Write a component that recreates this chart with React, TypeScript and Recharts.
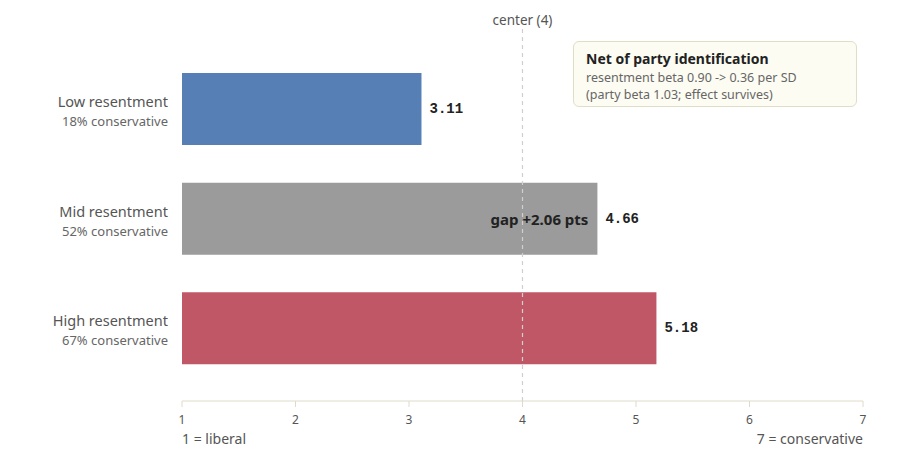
import React from "react";
import { BarChart, Bar, XAxis, YAxis, ReferenceLine, LabelList, Cell } from "recharts";

// Mean self-placement on the 1–7 ideology scale, by resentment tercile
const groups = ["Low resentment", "Mid resentment", "High resentment"];
const shareConservative = ["18% conservative", "52% conservative", "67% conservative"];
const meanScore = [3.11, 4.66, 5.18];
const barColors = ["#5680b5", "#9b9b9b", "#c05767"];
const gapText = "gap +2.06 pts";
const xTicks = [1, 2, 3, 4, 5, 6, 7];
const scaleMin = 1;
const scaleMax = 7;
const scaleCenter = 4;
const noteTitle = "Net of party identification";
const noteLines = ["resentment beta 0.90 -> 0.36 per SD", "(party beta 1.03; effect survives)"];

const data = groups.map((g, i) => ({
  group: g,
  sub: shareConservative[i],
  score: meanScore[i],
  note: i === 1 ? gapText : "",
}));

const SANS = "'Noto Sans', 'Open Sans', sans-serif";
const MONO = "'Liberation Mono', 'DejaVu Sans Mono', monospace";

const GroupTick = (props: any) => {
  const { x, y, payload, index } = props;
  return (
    <g>
      <text x={x} y={y - 8} textAnchor="end" dominantBaseline="central" fontFamily={SANS} fontSize={14.5} fill="#555">
        {payload.value}
      </text>
      <text x={x} y={y + 12} textAnchor="end" dominantBaseline="central" fontFamily={SANS} fontSize={13} fill="#666">
        {shareConservative[index]}
      </text>
    </g>
  );
};

const ScaleEnds = (props: any) => {
  const { viewBox } = props;
  if (!viewBox) return null;
  const { x, y, width } = viewBox;
  return (
    <g fontFamily={SANS} fontSize={14} fill="#555">
      <text x={x} y={y + 37} dominantBaseline="central" textAnchor="start">1 = liberal</text>
      <text x={x + width} y={y + 37} dominantBaseline="central" textAnchor="end">7 = conservative</text>
    </g>
  );
};

const ValueLabel = (props: any) => {
  const { x, y, width, height, value } = props;
  return (
    <text x={x + width + 8} y={y + height / 2} dominantBaseline="central" fontFamily={MONO} fontWeight="bold" fontSize={14} fill="#222">
      {Number(value).toFixed(2)}
    </text>
  );
};

const GapLabel = (props: any) => {
  const { x, y, width, height, value } = props;
  if (!value) return null;
  return (
    <text x={x + width - 9} y={y + height / 2} dominantBaseline="central" textAnchor="end" fontFamily={SANS} fontWeight="bold" fontSize={15} fill="#222">
      {value}
    </text>
  );
};

export default function App() {
  return (
    <div style={{ position: "relative", width: 884, height: 447 }}>
      <BarChart
        width={884}
        height={447}
        data={data}
        layout="vertical"
        margin={{ top: 21, right: 29, bottom: 28, left: 0 }}
      >
        <XAxis
          type="number"
          domain={[scaleMin, scaleMax]}
          ticks={xTicks}
          allowDataOverflow
          axisLine={{ stroke: "#dedbc8" }}
          tickLine={{ stroke: "#dedbc8" }}
          tickSize={6}
          tickMargin={8}
          tick={{ fontFamily: SANS, fontSize: 12, fill: "#555" }}
          height={26}
          label={<ScaleEnds />}
        />
        <YAxis
          type="category"
          dataKey="group"
          width={174}
          axisLine={false}
          tickLine={false}
          tickMargin={8}
          padding={{ top: 25, bottom: 18 }}
          tick={<GroupTick />}
        />
        <Bar dataKey="score" barSize={72} isAnimationActive={false}>
          {data.map((d, i) => (
            <Cell key={d.group} fill={barColors[i]} />
          ))}
          <LabelList dataKey="score" content={<ValueLabel />} zIndex={5000} />
          <LabelList dataKey="note" content={<GapLabel />} zIndex={5000} />
        </Bar>
        <ReferenceLine
          x={scaleCenter}
          stroke="#cfcfcf"
          strokeDasharray="4 4"
          strokeWidth={1.2}
          label={{ value: "center (4)", position: "top", offset: 4, fontFamily: SANS, fontSize: 13.5, fill: "#555" }}
        />
      </BarChart>
      <div
        style={{
          position: "absolute",
          left: 565,
          top: 33,
          width: 284,
          height: 66,
          boxSizing: "border-box",
          border: "1.5px solid #e0dec6",
          borderRadius: 6,
          background: "#fdfcf3",
          padding: "7px 12px",
          fontFamily: SANS,
        }}
      >
        <div style={{ fontSize: 14, fontWeight: "bold", color: "#222", lineHeight: "20px" }}>{noteTitle}</div>
        {noteLines.map((t) => (
          <div key={t} style={{ fontSize: 12.5, color: "#666", lineHeight: "17px" }}>{t}</div>
        ))}
      </div>
    </div>
  );
}
